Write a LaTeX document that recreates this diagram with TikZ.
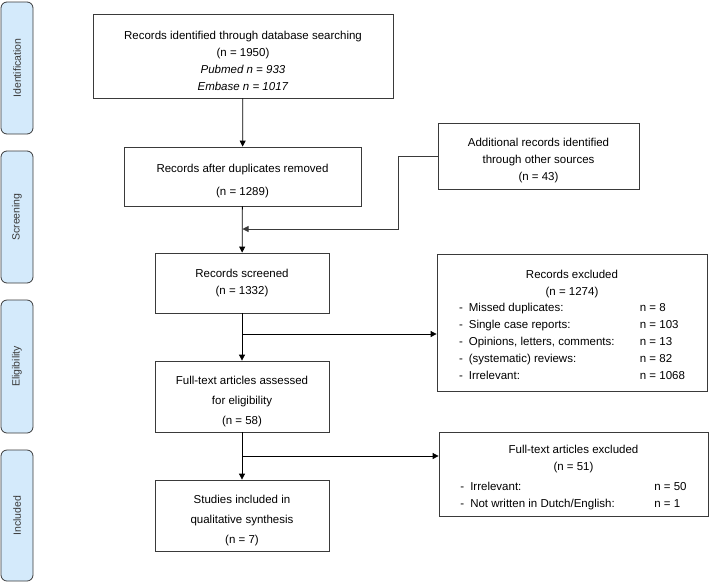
\documentclass[tikz,border=0pt]{standalone}
\usepackage{fontspec}
\setmainfont{Liberation Sans}
\usetikzlibrary{arrows.meta}
\definecolor{phasefill}{HTML}{D4EAFB}
\definecolor{linegray}{HTML}{3A3A3A}
\newcommand{\topgap}{\rule{0pt}{18pt}}
\begin{document}
\begin{tikzpicture}[x=1pt,y=-1pt,
    box/.style={draw=linegray,line width=0.8pt,align=center,inner sep=0pt,
      font=\fontsize{11.5}{17}\selectfont},
    phase/.style={draw=linegray,line width=0.8pt,fill=phasefill,rounded corners=6pt,
      minimum width=32pt,inner sep=0pt},
    phaselabel/.style={rotate=90,text=linegray,font=\fontsize{10.5}{12}\selectfont},
    arr/.style={draw=black,line width=0.8pt,-{Triangle[length=6pt,width=6pt]}}]
    \useasboundingbox (0,0) rectangle (709,582);

    \node[phase,minimum height=132pt] (identification) at (17,68) {};
    \node[phase,minimum height=132pt] (screening) at (17,217) {};
    \node[phase,minimum height=133pt] (eligibility) at (17,366.5) {};
    \node[phase,minimum height=131pt] (included) at (17,515.5) {};
    \node[phaselabel] at (identification) {Identification};
    \node[phaselabel] at (screening) {Screening};
    \node[phaselabel] at (eligibility) {Eligibility};
    \node[phaselabel] at (included) {Included};

    \node[box,minimum width=300pt,minimum height=84pt] (database) at (243,56)
      {\topgap Records identified through database searching\\(n = 1950)\\
       \textit{Pubmed n = 933}\\\textit{Embase n = 1017}};
    \node[box,minimum width=237pt,minimum height=59pt] (duplicates) at (242.5,176.5)
      {\topgap Records after duplicates removed\\[6pt](n = 1289)};
    \node[box,minimum width=201pt,minimum height=66pt] (additional) at (538.5,156)
      {\topgap Additional records identified\\through other sources\\(n = 43)};
    \node[box,minimum width=174pt,minimum height=60pt] (screened) at (242,283)
      {Records screened\\(n = 1332)};
    \node[box,minimum width=270pt,minimum height=137pt] (recexcl) at (572,322.5)
      {\topgap Records excluded\\(n = 1274)\\
       \begin{tabular}{@{}l@{\hspace{6pt}}p{171pt}@{}l@{}}
       - & Missed duplicates: & n = 8\\
       - & Single case reports: & n = 103\\
       - & Opinions, letters, comments: & n = 13\\
       - & (systematic) reviews: & n = 82\\
       - & Irrelevant: & n = 1068
       \end{tabular}};
    \node[box,minimum width=174pt,minimum height=71pt] (fulltext) at (242,396.5)
      {\topgap Full-text articles assessed\\[3pt]for eligibility\\[3pt](n = 58)};
    \node[box,minimum width=269pt,minimum height=84pt] (ftexcl) at (573.5,474)
      {\topgap Full-text articles excluded\\(n = 51)\\[4pt]
       \begin{tabular}{@{}l@{\hspace{6pt}}p{184pt}@{}l@{}}
       - & Irrelevant: & n = 50\\
       - & Not written in Dutch/English: & n = 1
       \end{tabular}};
    \node[box,minimum width=174pt,minimum height=71pt] (studies) at (242,515.5)
      {\topgap Studies included in\\[3pt]qualitative synthesis\\[3pt](n = 7)};

    \coordinate (join) at (242.5,229);
    \coordinate (split1) at (242,334);
    \coordinate (split2) at (242,456);

    \draw[arr] (database) -- (duplicates);
    \draw[arr] (duplicates) -- (screened);
    \draw[arr,draw=linegray] (additional.west) -- ++(-39,0) |- (join);
    \draw[arr] (screened) -- (fulltext);
    \draw[arr] (split1) -- (split1 -| recexcl.west);
    \draw[arr] (fulltext) -- (studies);
    \draw[arr] (split2) -- (split2 -| ftexcl.west);
\end{tikzpicture}
\end{document}
